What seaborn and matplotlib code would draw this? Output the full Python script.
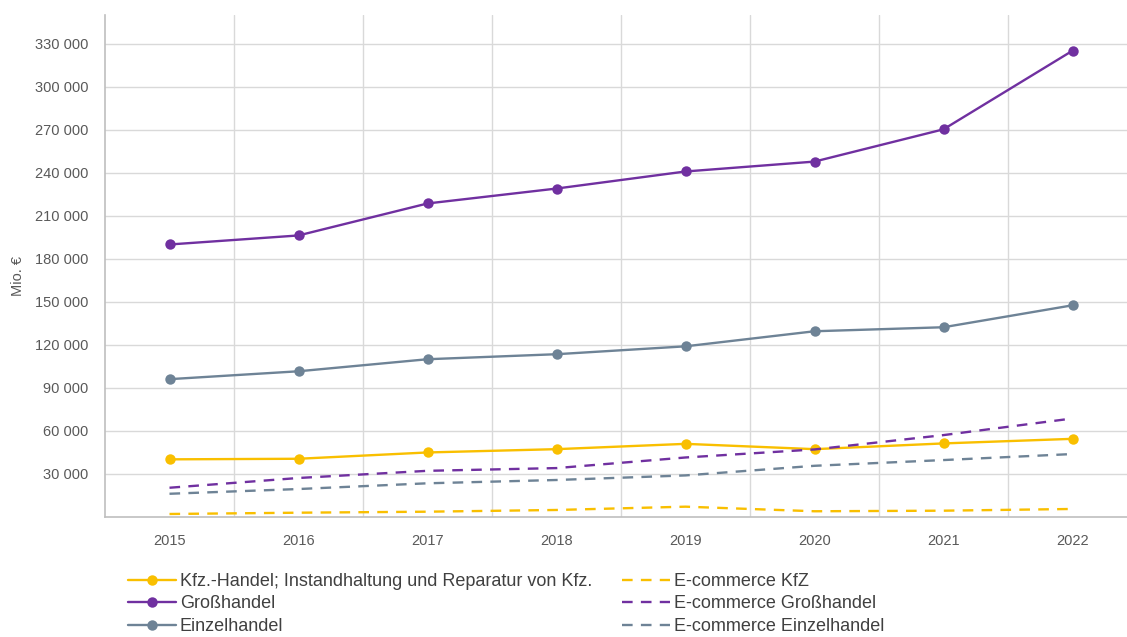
"""
Umsatz im Handel 2015-2022 mit E-commerce-Anteil, Linienchart.
"""
import numpy as np
import pandas as pd
from matplotlib import pyplot as plt
from matplotlib.ticker import FuncFormatter
import seaborn as sns

# Daten (Mio. €)
years = [2015, 2016, 2017, 2018, 2019, 2020, 2021, 2022]
kfz = [40200, 40600, 45000, 47300, 51000, 47300, 51300, 54500]
gross = [190000, 196300, 218600, 229000, 240900, 247800, 270300, 325100]
einzel = [96100, 101600, 110000, 113500, 119000, 129500, 132300, 147600]
ecom_kfz = [2100, 3000, 3700, 4900, 7200, 4000, 4400, 5600]
ecom_gross = [20400, 27200, 32200, 34100, 41500, 47100, 57100, 68700]
ecom_einzel = [16200, 19500, 23500, 25800, 29000, 35700, 39700, 43900]

labels = [
    "Kfz.-Handel; Instandhaltung und Reparatur von Kfz.",
    "Großhandel",
    "Einzelhandel",
    "E-commerce KfZ",
    "E-commerce Großhandel",
    "E-commerce Einzelhandel",
]
yticks = [30000, 60000, 90000, 120000, 150000, 180000, 210000, 240000, 270000, 300000, 330000]

palette = {"yellow": "#F9BF00", "purple": "#7030A0", "gray": "#6E8396", "grid": "#D9D9D9"}

series = [
    (kfz, palette["yellow"], "-", "o"),
    (gross, palette["purple"], "-", "o"),
    (einzel, palette["gray"], "-", "o"),
    (ecom_kfz, palette["yellow"], "--", None),
    (ecom_gross, palette["purple"], "--", None),
    (ecom_einzel, palette["gray"], "--", None),
]

sns.set_style("white")
plt.rcParams["font.family"] = ["Liberation Sans", "DejaVu Sans"]

fig = plt.figure(figsize=(11.27, 6.37), dpi=100)
ax = fig.add_axes([105 / 1127, 1 - 517 / 637, 1032 / 1127, 502 / 637])

for (values, color, ls, marker), label in zip(series, labels):
    df = pd.DataFrame({"Jahr": years, "Wert": values})
    kw = dict(marker=marker, markersize=7.5, markeredgewidth=0) if marker else {}
    sns.lineplot(
        data=df, x="Jahr", y="Wert", ax=ax, color=color, lw=1.7,
        label=label, zorder=3, **kw,
    )
    if ls == "--":
        ax.lines[-1].set_dashes((4.5, 3.5))

# Achsen
ax.set_xlim(2014.5, 2022.5)
ax.set_ylim(0, 350000)
ax.set_xticks(years)
ax.set_xticks([y + 0.5 for y in years[:-1]], minor=True)
ax.set_yticks(yticks)
ax.yaxis.set_major_formatter(FuncFormatter(lambda v, p: f"{int(v):,}".replace(",", " ")))
ax.tick_params(axis="both", which="both", length=0, labelsize=10.5, labelcolor="#595959")
ax.tick_params(axis="y", pad=12)
ax.tick_params(axis="x", pad=12)
ax.grid(axis="y", which="major", color=palette["grid"], lw=1)
ax.grid(axis="x", which="minor", color=palette["grid"], lw=1)
ax.grid(axis="x", which="major", visible=False)
ax.set_xlabel("")
ax.set_ylabel("")
for side in ["top", "right"]:
    ax.spines[side].set_visible(False)
for side in ["left", "bottom"]:
    ax.spines[side].set_color("#BFBFBF")
    ax.spines[side].set_linewidth(1.2)

fig.text(18 / 1127, 1 - 276 / 637, "Mio. €", rotation=90, ha="center", va="center",
         fontsize=10.5, color="#595959")

# Legende
handles, lbls = ax.get_legend_handles_labels()
ax.get_legend().remove()
fig.legend(
    handles, lbls, ncol=2, frameon=False, loc="upper left",
    bbox_to_anchor=(128 / 1127, 1 - 573 / 637),
    fontsize=13, handlelength=2.65, handletextpad=0.22, labelspacing=0.3,
    columnspacing=1.67, labelcolor="#404040", borderaxespad=0, borderpad=0,
)

plt.savefig("out.png", dpi=100)
